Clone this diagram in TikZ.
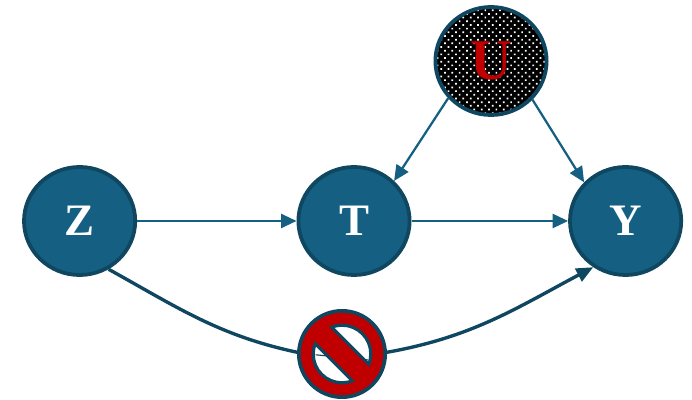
\documentclass[tikz,border=0pt]{standalone}
\usepackage{fontspec}
\setmainfont{Liberation Serif}
\usepackage{tikz}
\usetikzlibrary{arrows.meta, shapes.geometric, patterns.meta}
\definecolor{nodeblue}{HTML}{156082}
\definecolor{edgeblue}{HTML}{0F4761}
\definecolor{stopred}{HTML}{C00000}

\begin{document}
\begin{tikzpicture}
            \tikzset{vertex/.style = {shape=ellipse,draw=edgeblue,line width=2.7pt,fill=nodeblue,text=white,font=\bfseries\fontsize{32}{32}\selectfont,minimum width=2.78cm,minimum height=2.7cm,inner sep=0pt}}
            \tikzset{hidden/.style = {vertex,fill=none,preaction={fill=black},pattern={Dots[distance=1.3mm,radius=.3mm,angle=45]},pattern color=white,text=stopred,font=\bfseries\fontsize{41}{41}\selectfont}}
            \tikzset{edge/.style = {nodeblue,line width=1.6pt,-{Triangle[length=11pt,width=10pt]}}}
            \tikzset{blocked/.style = {edgeblue,line width=2.4pt}}
            \useasboundingbox (0, 0) rectangle (17.3, 10);
            \node[vertex] (z) at (1.99, 4.475) {Z};
            \node[vertex] (t) at (8.85, 4.475) {T};
            \node[vertex] (y) at (15.64, 4.475) {Y};
            \node[hidden] (u) at (12.275, 8.475) {U};
            \node[shape=circle,minimum size=2.2cm,inner sep=0pt,outer sep=0pt] (stop) at (8.55, 1.15) {};
            \draw[edge] (u.221) -- (t.45);
            \draw[edge] (u.-43) -- (y.137);
            \draw[edge] (z) -- (t);
            \draw[edge] (t) -- (y);
            \draw[blocked] (z.-59) to[out=-29,in=168] (stop.178);
            \draw[blocked,-{Triangle[length=12pt,width=10pt]}] (stop.2) to[out=10,in=208] (y.235);
            % no-entry sign
            \begin{scope}[shift={(stop.center)}]
              \fill[edgeblue] (0, 0) circle (1.125);
              \fill[white] (0, 0) circle (.7);
              \draw[edgeblue,line width=.8pt] (-.66, -.02) -- (.66, -.15);
              \begin{scope}[rotate=-45]
                \fill[edgeblue] (-.75, -.33) rectangle (.75, .33);
              \end{scope}
              \fill[edgeblue,even odd rule] (0, 0) circle (.85) circle (.68);
              \fill[stopred,even odd rule] (0, 0) circle (1.03) circle (.76);
              \begin{scope}[rotate=-45]
                \fill[stopred] (-.88, -.25) rectangle (.88, .25);
              \end{scope}
            \end{scope}
\end{tikzpicture}
\end{document}
